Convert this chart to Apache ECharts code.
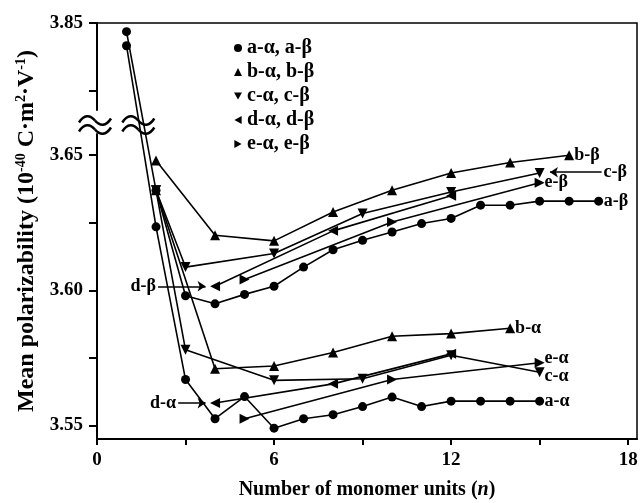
<!DOCTYPE html>
<html>
<head>
<meta charset="utf-8">
<script src="https://cdn.jsdelivr.net/npm/echarts@6.0.0/dist/echarts.min.js"></script>
<style>
html, body { margin: 0; padding: 0; background: #fff; }
#chart { width: 643px; height: 503px; }
</style>
</head>
<body>
<div id="chart"></div>
<script>
// number of monomer units for each family
const nA = [1, 2, 3, 4, 5, 6, 7, 8, 9, 10, 11, 12, 13, 14, 15, 16, 17]
const nB = [2, 4, 6, 8, 10, 12, 14, 16]
const nC = [2, 3, 6, 9, 12, 15]
const nD = [4, 8, 12]
const nE = [5, 10, 15]

// mean polarizability, 10^-40 C·m²·V^-1
const aAlpha = [3.8416, 3.6235, 3.567, 3.5525, 3.5607, 3.549, 3.5525, 3.554, 3.557, 3.5605, 3.557, 3.559, 3.559, 3.559, 3.559]
const aBeta = [3.8468, 3.637, 3.598, 3.595, 3.5985, 3.6015, 3.6086, 3.615, 3.6185, 3.6216, 3.6247, 3.6266, 3.6315, 3.6315, 3.633, 3.633, 3.633]
const bAlpha = [3.637, 3.571, 3.572, 3.577, 3.583, 3.584, 3.586]
const bBeta = [3.648, 3.6204, 3.6183, 3.629, 3.637, 3.6434, 3.6473, 3.650]
const cAlpha = [3.637, 3.578, 3.5667, 3.5673, 3.576, 3.5697]
const cBeta = [3.637, 3.6086, 3.6136, 3.6284, 3.6364, 3.6434]
const dAlpha = [3.5583, 3.5654, 3.5765]
const dBeta = [3.6015, 3.622, 3.635]
const eAlpha = [3.5525, 3.567, 3.5732]
const eBeta = [3.604, 3.6253, 3.6398]

const legendNames = ['a-α, a-β', 'b-α, b-β', 'c-α, c-β', 'd-α, d-β', 'e-α, e-β']
const yLabels = [3.55, 3.60, 3.65, 3.85]
const yTicks = [3.55, 3.575, 3.60, 3.625, 3.65, 3.825, 3.85]
const xLabels = [0, 6, 12, 18]
const xTicks = [0, 3, 6, 9, 12, 15, 18]

const FONT = '"Liberation Serif", "DejaVu Serif", serif'
const SYM = {
  a: 'circle',
  b: 'triangle',
  c: 'path://M0,0L10,0L5,9Z',
  d: 'path://M0,5L9,0L9,10Z',
  e: 'path://M0,0L9,5L0,10Z'
}
const SIZE = {a: 9, b: 10, c: 10, d: 10, e: 10}

const pairs = (xs, ys) => ys.map((v, i) => [xs[i], v])

const labelText = {color: '#000', fontFamily: FONT, fontWeight: 'bold', fontSize: 18}

// label + arrow pointing at a series
const arrow = (from, to, text) => ({
  silent: true,
  symbol: ['none', 'arrow'],
  symbolSize: 8,
  lineStyle: {color: '#000', width: 1.5, type: 'solid'},
  itemStyle: {color: '#000'},
  label: Object.assign({show: true, position: 'start', formatter: text, distance: 2}, labelText),
  data: [[{coord: from}, {coord: to}]]
})

const endLabel = (tag, dy) => Object.assign({show: true, formatter: tag, distance: 5, offset: [0, dy || 0]}, labelText)

const makeSeries = (key, group, ys, xs, extra) => Object.assign({
  name: legendNames[group],
  type: 'line',
  data: pairs(xs, ys),
  symbol: SYM[key],
  symbolSize: SIZE[key],
  showAllSymbol: true,
  itemStyle: {color: '#000'},
  lineStyle: {color: '#000', width: 1.6},
  z: 3
}, extra || {})

const series = [
  makeSeries('a', 0, aAlpha, nA, {endLabel: endLabel('a-α')}),
  makeSeries('a', 0, aBeta, nA, {endLabel: endLabel('a-β')}),
  makeSeries('b', 1, bAlpha, nB, {endLabel: endLabel('b-α')}),
  makeSeries('b', 1, bBeta, nB, {endLabel: endLabel('b-β')}),
  makeSeries('c', 2, cAlpha, nC, {endLabel: endLabel('c-α', 4)}),
  makeSeries('c', 2, cBeta, nC, {markLine: arrow([17.1, 3.6437], [15.35, 3.6437], 'c-β')}),
  makeSeries('d', 3, dAlpha, nD, {markLine: arrow([2.75, 3.5583], [3.68, 3.5583], 'd-α')}),
  makeSeries('d', 3, dBeta, nD, {markLine: arrow([2.07, 3.6015], [3.68, 3.6015], 'd-β')}),
  makeSeries('e', 4, eAlpha, nE, {endLabel: endLabel('e-α', -4)}),
  makeSeries('e', 4, eBeta, nE, {endLabel: endLabel('e-β')})
]

const chart = echarts.init(document.getElementById('chart'))

const option = {
  animation: false,
  backgroundColor: '#fff',
  textStyle: {fontFamily: FONT, fontWeight: 'bold', color: '#000'},
  grid: {
    left: 97, right: 6, top: 23, bottom: 64,
    show: true, borderColor: '#000', borderWidth: 1.5,
    outerBoundsMode: 'none'
  },
  legend: {
    data: legendNames.map((name, i) => ({name, icon: SYM['abcde'[i]]})),
    orient: 'vertical',
    left: 229, top: 33,
    itemWidth: 8, itemHeight: 8,
    itemGap: 4,
    selectedMode: false,
    textStyle: {fontFamily: FONT, fontWeight: 'bold', fontSize: 20, color: '#000', lineHeight: 20}
  },
  xAxis: {
    type: 'value', min: 0, max: 18.3,
    name: 'Number of monomer units ({i|n})',
    nameLocation: 'middle', nameGap: 41,
    nameTextStyle: {fontFamily: FONT, fontWeight: 'bold', fontSize: 20, color: '#000',
      rich: {i: {fontStyle: 'italic', fontFamily: FONT, fontWeight: 'bold', fontSize: 20}}},
    axisLine: {show: true, lineStyle: {color: '#000', width: 2}},
    axisTick: {show: true, customValues: xTicks, length: 6, lineStyle: {width: 2, color: '#000'}},
    axisLabel: {customValues: xLabels, margin: 12, fontFamily: FONT, fontWeight: 'bold', fontSize: 19, color: '#000'},
    splitLine: {show: false}
  },
  yAxis: {
    type: 'value', min: 3.545, max: 3.85,
    breaks: [{start: 3.658, end: 3.818, gap: 0.0089}],
    breakArea: {show: false},
    name: 'Mean polarizability (10{s|-40} C·m{s|2}·V{s|-1})',
    nameLocation: 'middle', nameGap: 56,
    nameTextStyle: {fontFamily: FONT, fontWeight: 'bold', fontSize: 24, color: '#000',
      rich: {s: {fontSize: 14, verticalAlign: 'top', fontFamily: FONT, fontWeight: 'bold'}}},
    axisLine: {show: true, lineStyle: {color: '#000', width: 2}},
    axisTick: {show: true, customValues: yTicks, length: 8, lineStyle: {width: 2, color: '#000'}},
    axisLabel: {customValues: yLabels, margin: 14, fontFamily: FONT, fontWeight: 'bold', fontSize: 19, color: '#000',
      formatter: v => v.toFixed(2)},
    splitLine: {show: false}
  },
  series
}

chart.setOption(option)

// axis break marks (≈) on the y axis and on the n = 1 → 2 line
const yTop = chart.convertToPixel({gridIndex: 0}, [0, 3.818])[1]
const yBot = chart.convertToPixel({gridIndex: 0}, [0, 3.658])[1]
const yMid = (yTop + yBot) / 2 + 2
const waveLine = dy => [
  {type: 'bezierCurve', shape: {x1: -16, y1: -1 + dy, cpx1: -11, cpy1: -9 + dy, cpx2: -5, cpy2: -9 + dy, x2: 0, y2: -3 + dy},
    style: {fill: 'none', stroke: '#000', lineWidth: 2.5}},
  {type: 'bezierCurve', shape: {x1: 0, y1: -3 + dy, cpx1: 5, cpy1: 3 + dy, cpx2: 11, cpy2: 3 + dy, x2: 16, y2: -5 + dy},
    style: {fill: 'none', stroke: '#000', lineWidth: 2.5}}
]
const breakMark = x => ({
  type: 'group', x: x, y: yMid, z: 100,
  children: [
    {type: 'rect', shape: {x: -17, y: -22, width: 34, height: 34}, style: {fill: '#fff'}}
  ].concat(waveLine(0), waveLine(9))
})
chart.setOption({
  graphic: [
    breakMark(chart.convertToPixel({gridIndex: 0}, [0, 3.7])[0] - 2),
    breakMark(chart.convertToPixel({gridIndex: 0}, [1.4, 3.7])[0])
  ]
})
</script>
</body>
</html>
